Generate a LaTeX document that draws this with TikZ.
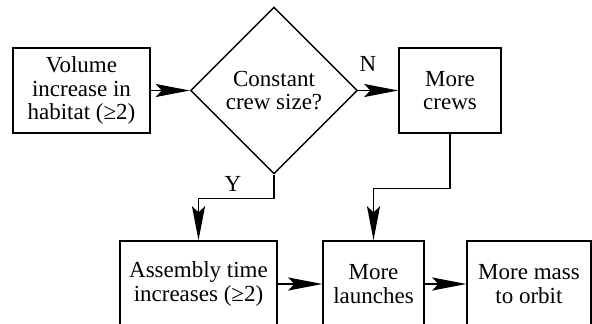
\documentclass[tikz,border=0pt]{standalone}
\usepackage{fontspec}
\setmainfont{Liberation Serif}
\usetikzlibrary{arrows.meta,shapes.geometric,calc}
\begin{document}
\begin{tikzpicture}[x=1pt,y=-1pt,
  line width=1.4pt,
  txt/.style={font=\fontsize{23}{23.5}\selectfont, align=center, inner sep=0pt},
  box/.style={txt, draw, rectangle},
  arr/.style={-{Stealth[length=34pt,width=13pt,inset=6pt]}},
  lbl/.style={font=\fontsize{23}{23}\selectfont, inner sep=0pt}]
\useasboundingbox (0,0) rectangle (592,324);
\begin{scope}
\clip (0,0) rectangle (592,324);
\node[box, minimum width=137pt, minimum height=85pt] (vol) at (81.5,90.5) {Volume\\increase in\\habitat (≥2)};
\node[txt, draw, shape=diamond, minimum width=167pt, minimum height=167pt] (dia) at (274,90.5) {Constant\\crew size?};
\node[box, minimum width=102pt, minimum height=85pt] (crews) at (450,90.5) {More\\crews};
\node[box, minimum width=157pt, minimum height=86pt] (asm) at (198.5,284) {Assembly time\\increases (≥2)};
\node[box, minimum width=101pt, minimum height=86pt] (launch) at (373.5,284) {More\\launches};
\node[box, minimum width=124pt, minimum height=86pt] (mass) at (529,284) {More mass\\to orbit};
\end{scope}
\node[lbl] (n) at (368,64) {N};
\node[lbl] (y) at (233,184) {Y};
\draw[arr] (vol.east) -- (dia.west);
\draw[arr] (dia.east) -- (crews.west);
\coordinate (yj) at ($(dia.south)+(0,24)$);
\draw[arr] (dia.south) -- (yj) -| (asm.north);
\coordinate (cj) at ($(crews.south)+(0,54.5)$);
\draw[arr] (crews.south) -- (cj) -| (launch.north);
\draw[arr] (asm.east) -- (launch.west);
\draw[arr] (launch.east) -- (mass.west);
\end{tikzpicture}
\end{document}
